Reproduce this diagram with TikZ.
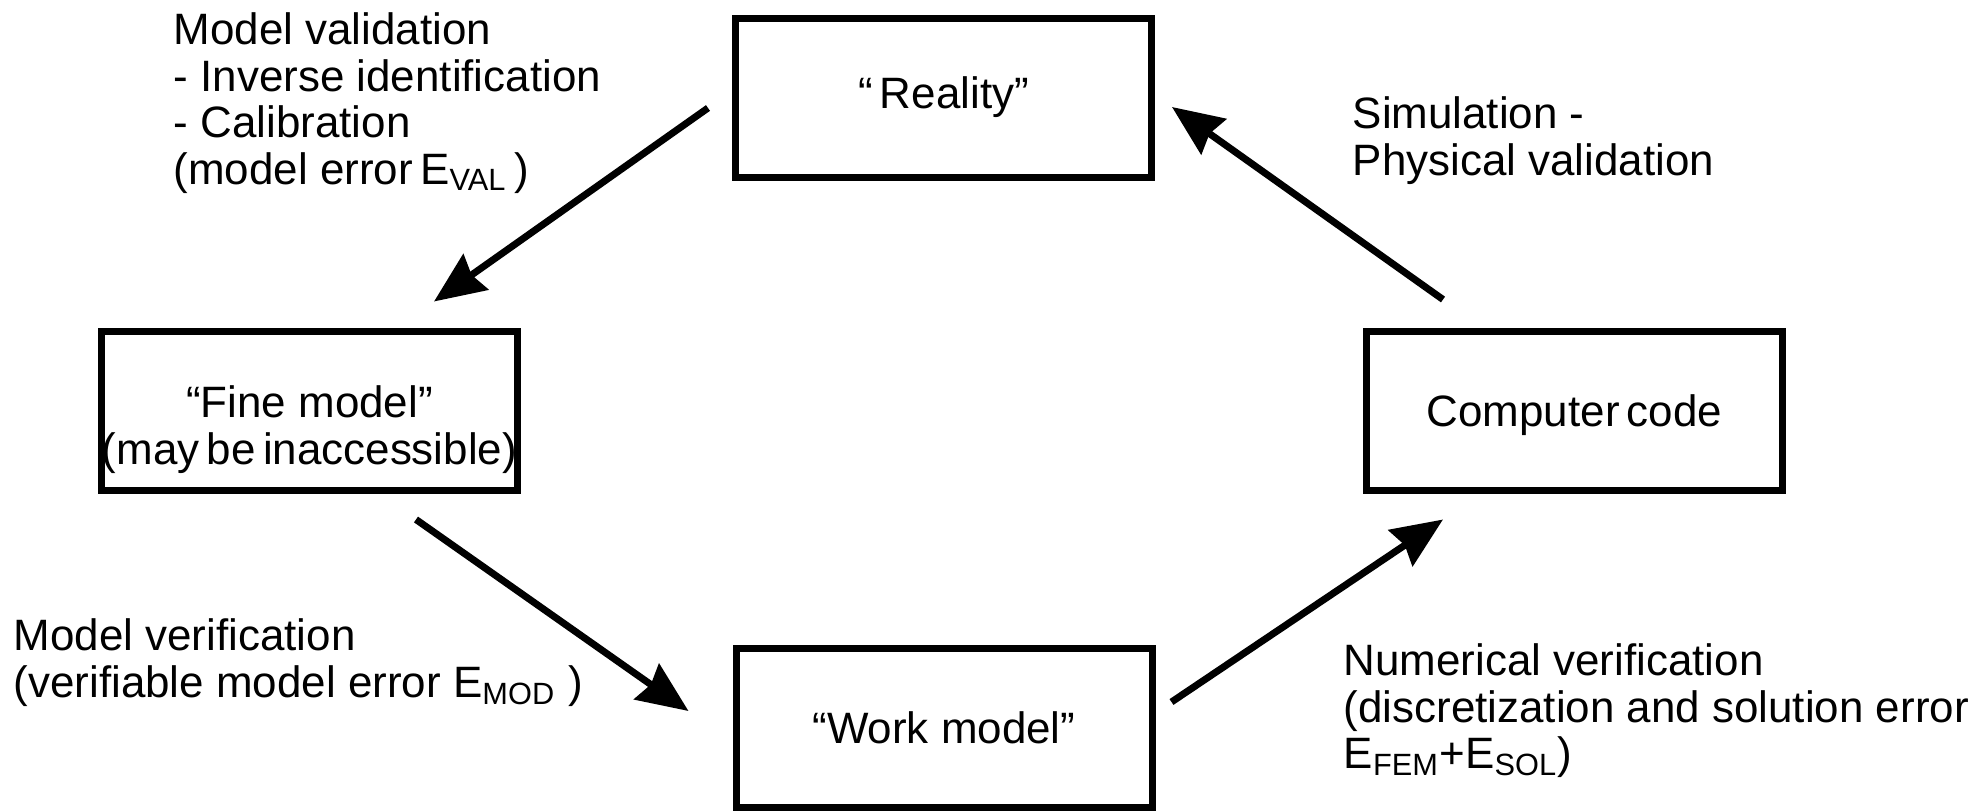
\documentclass[tikz,border=0pt]{standalone}
\usepackage{fontspec}
\setmainfont{Liberation Sans}
\usetikzlibrary{arrows.meta}

\begin{document}
\begin{tikzpicture}[every node/.style={font=\fontsize{12.5}{13.25}\selectfont},
  box/.style={draw, line width=0.07cm, minimum width=4.16cm, minimum height=1.59cm, align=center, inner sep=0pt},
  flow/.style={line width=0.07cm, -{Stealth[length=0.51cm, width=0.43cm, inset=0.05cm]}},
  lbl/.style={anchor=north west, align=left, inner sep=0pt}]
% page
\useasboundingbox (0,0) rectangle (19.76,8.10);
% the four boxes
\node[box] (reality) at (9.435,7.125) {“\,Reality”};
\node[box] (fine) at (3.095,3.995) {\rule{0pt}{0.7cm}“Fine model”\\(may\,be\,inaccessible)};
\node[box] (code) at (15.745,3.995) {\rule{0pt}{0.42cm}Computer\,code};
\node[box] (work) at (9.44,0.825) {“Work model”};
% arrows round the loop
\draw[flow] ([xshift=-0.24cm, yshift=-0.105cm]reality.west) -- ([xshift=1.245cm, yshift=0.26cm]fine.north);
\draw[flow] ([xshift=1.065cm, yshift=-0.26cm]fine.south) -- ([xshift=-0.44cm, yshift=0.165cm]work.west);
\draw[flow] ([xshift=0.16cm, yshift=0.255cm]work.east) -- ([xshift=-1.315cm, yshift=-0.26cm]code.south);
\draw[flow] ([xshift=-1.315cm, yshift=0.28cm]code.north) -- ([xshift=0.17cm, yshift=-0.095cm]reality.east);
% labels
\node[lbl] (val) at (1.73,7.98) {Model validation\\- Inverse identification\\- Calibration\\(model error\,E\textsubscript{VAL}\,)};
\node[lbl] (sim) at (13.52,7.14) {Simulation -\\Physical validation};
\node[lbl] (ver) at (0.13,1.92) {Model verification\\(verifiable model error E\textsubscript{MOD} )};
\node[lbl] (num) at (13.43,1.67) {Numerical verification\\(discretization and solution error\\E\textsubscript{FEM}+E\textsubscript{SOL})};
\end{tikzpicture}
\end{document}
